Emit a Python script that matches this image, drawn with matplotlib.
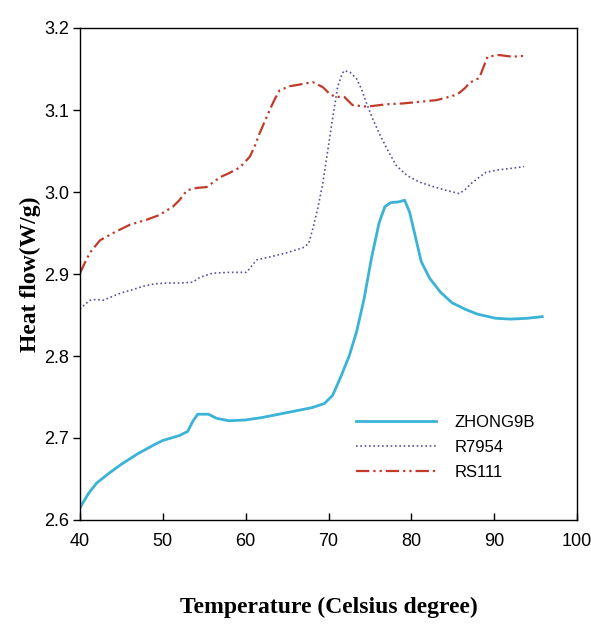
import matplotlib
matplotlib.use("Agg")
import matplotlib.pyplot as plt

# ZHONG9B (cyan, solid)
z_t = [40, 41, 42, 43.5, 45, 47, 49, 50, 52, 53, 53.6, 54.2, 55.5, 56.5, 58, 60, 62, 64, 66, 68, 69.5, 70.5, 71.5,
       72.5, 73.4, 74.3, 75.2, 76.1, 76.8, 77.5, 78.5, 79.2, 79.8, 80.5, 81.2, 82.2, 83.5, 84.9, 86.5, 88, 90.2,
       92, 94, 95.8]
z_h = [2.615, 2.632, 2.645, 2.657, 2.668, 2.681, 2.692, 2.697, 2.703, 2.708, 2.72, 2.729, 2.729, 2.724, 2.721,
       2.722, 2.725, 2.729, 2.733, 2.737, 2.742, 2.752, 2.775, 2.8, 2.83, 2.87, 2.92, 2.962, 2.982, 2.987, 2.988,
       2.99, 2.975, 2.945, 2.915, 2.895, 2.878, 2.865, 2.857, 2.851, 2.846, 2.845, 2.846, 2.848]

# R7954 (dotted)
r_t = [40, 40.5, 41.2, 42, 42.8, 44, 45, 46.4, 47.6, 49, 50.5, 52, 53.6, 54.5, 56, 58, 60.1, 61.3, 63, 65,
       66.9, 67.6, 68.1, 68.7, 69.3, 69.9, 70.5, 71.1, 71.6, 71.9, 72.6, 73.4, 74, 74.6, 75.3, 76.1, 77.2, 78.2,
       79.5, 81, 82.5, 84.2, 85.8, 86.5, 87.3, 88.2, 89, 90.5, 92.2, 93.6]
r_h = [2.857, 2.862, 2.868, 2.869, 2.868, 2.873, 2.877, 2.881, 2.885, 2.888, 2.889, 2.889, 2.89, 2.896, 2.901,
       2.902, 2.902, 2.917, 2.921, 2.926, 2.932, 2.937, 2.955, 2.98, 3.01, 3.05, 3.09, 3.128, 3.143, 3.148, 3.146,
       3.138, 3.125, 3.108, 3.09, 3.072, 3.05, 3.032, 3.02, 3.012, 3.007, 3.002, 2.998, 3.003, 3.011, 3.018,
       3.024, 3.027, 3.029, 3.031]

# RS111 (dash-dot-dot)
s_t = [40, 40.6, 41.2, 42.4, 44, 46, 48, 49.6, 51.2, 52, 52.9, 54.1, 55.3, 56.9, 58, 59.3, 60.5, 61.1, 61.7,
       62.3, 62.9, 63.5, 64.1, 65.3, 66.5, 68.1, 69.3, 70.1, 70.8, 71.9, 72.9, 74.6, 77, 79, 81, 83, 84.2, 85.2,
       85.8, 86.5, 87, 88.2, 88.7, 89.2, 90.6, 92.2, 93.6]
s_h = [2.901, 2.914, 2.926, 2.941, 2.95, 2.96, 2.966, 2.972, 2.982, 2.99, 3.002, 3.005, 3.006, 3.018, 3.023,
       3.03, 3.043, 3.056, 3.072, 3.086, 3.1, 3.113, 3.124, 3.129, 3.131, 3.134, 3.128, 3.12, 3.116, 3.116,
       3.106, 3.104, 3.107, 3.108, 3.11, 3.112, 3.115, 3.118, 3.121, 3.127, 3.133, 3.139, 3.152, 3.165, 3.167,
       3.165, 3.166]

series = ["ZHONG9B", "R7954", "RS111"]
x_ticks = [40, 50, 60, 70, 80, 90, 100]
y_ticks = [2.6, 2.7, 2.8, 2.9, 3.0, 3.1, 3.2]

tick_font = ["Liberation Sans Narrow", "Liberation Sans", "DejaVu Sans"]
label_font = ["Liberation Serif", "DejaVu Serif"]

fig = plt.figure(figsize=(5.91, 6.27), dpi=100)
ax = fig.add_axes([80 / 591, 1 - 520 / 627, 497 / 591, 492 / 627])

ax.plot(z_t, z_h, color="#3ab3d6", lw=2.0, label=series[0])
ax.plot(r_t, r_h, color="#5b4f9e", lw=1.2, linestyle=(0, (1, 1.6)), label=series[1])
ax.plot(s_t, s_h, color="#c23a2a", lw=1.6, linestyle=(0, (6, 1.8, 1, 1.8, 1, 1.8)), label=series[2])

ax.set_xlim(40, 100)
ax.set_ylim(2.6, 3.2)
ax.set_xticks(x_ticks)
ax.set_yticks(y_ticks)
ax.set_xticklabels([str(v) for v in x_ticks], family=tick_font, fontsize=13)
ax.set_yticklabels([f"{v:.1f}" for v in y_ticks], family=tick_font, fontsize=13)
ax.tick_params(axis="x", direction="in", length=5, width=1, pad=9)
ax.tick_params(axis="y", direction="out", length=5, width=1, pad=3)
for sp in ax.spines.values():
    sp.set_linewidth(1.0)

ax.set_xlabel("Temperature (Celsius degree)", family=label_font, fontweight="bold", fontsize=17, labelpad=34)
ax.set_ylabel("Heat flow(W/g)", family=label_font, fontweight="bold", fontsize=17, labelpad=2)

leg = ax.legend(loc="upper left", bbox_to_anchor=(0.555, 0.214), frameon=False, handlelength=4.8,
                handletextpad=1.1, labelspacing=0.6, borderaxespad=0, borderpad=0,
                prop={"family": tick_font, "size": 12})

fig.savefig("out.png", dpi=100, facecolor="white")
